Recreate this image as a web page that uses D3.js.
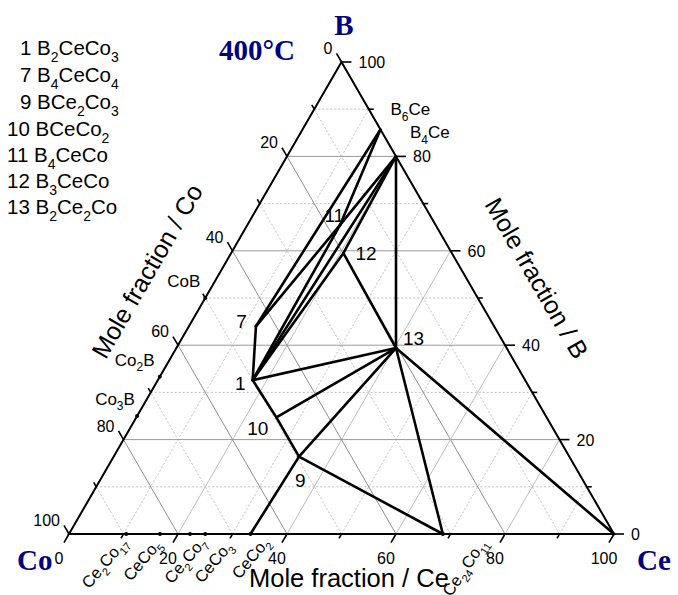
<!DOCTYPE html>
<html><head><meta charset="utf-8">
<script src="https://cdn.jsdelivr.net/npm/d3@7"></script>
<style>body{margin:0;background:#fff}svg{display:block;font-family:"Liberation Sans",Arial,sans-serif}text{fill:#000}</style>
</head><body><svg id="c" width="678" height="595"></svg>
<script>
// ---------------- data ----------------
const majorTicks = [0, 20, 40, 60, 80, 100];
const minorTicks = [10, 30, 50, 70, 90];
const gridMajor = [20, 40, 60, 80];
const gridMinor = [10, 30, 50, 70, 90];

// ternary phases (mole %): B and Ce, Co = 100 - B - Ce
const phaseIds = ["1", "7", "9", "10", "11", "12", "13"];
const phaseFormulas = ["B_2CeCo_3", "B_4CeCo_4", "BCe_2Co_3", "BCeCo_2", "B_4CeCo", "B_3CeCo", "B_2Ce_2Co"];
const phaseB  = [32.6, 44.0, 16.4, 24.7, 65.5, 59.5, 39.4];
const phaseCe = [17.4, 12.3, 34.0, 25.7, 17.0, 20.6, 40.3];

// binary / corner phases used by tie lines
const edgeIds = ["B6Ce", "B4Ce", "CeCo2", "Ce24Co11", "Ce"];
const edgeB   = [85.7, 80, 0, 0, 0];
const edgeCe  = [14.3, 20, 33.3, 68.6, 100];

// tie lines
const tieFrom = ["1", "7", "7", "11", "11", "1", "1", "1", "12", "12", "B4Ce", "1", "1", "10", "10", "9", "9", "9", "13", "13"];
const tieTo   = ["7", "B6Ce", "11", "B6Ce", "B4Ce", "11", "B4Ce", "12", "B4Ce", "13", "13", "13", "10", "9", "13", "13", "CeCo2", "Ce24Co11", "Ce24Co11", "Ce"];

// Co-B binaries (on Co-B edge, B mole %)
const coBNames = ["CoB", "Co_2B", "Co_3B"];
const coBB = [50, 33.3, 25];
// Ce-Co binaries (on Co-Ce edge, Ce mole %)
const ceCoNames = ["Ce_2Co_17", "CeCo_5", "Ce_2Co_7", "CeCo_3", "CeCo_2", "Ce_24Co_11"];
const ceCoCe = [10.5, 16.7, 22.2, 25, 33.3, 68.6];
// B-Ce binaries labels
const bCeNames = ["B_6Ce", "B_4Ce"];
const bCeB = [85.7, 80];

// ---------------- layout ----------------
const svg = d3.select("#c");
const xs = d3.scaleLinear().domain([0, 100]).range([69, 614]);
const ys = d3.scaleLinear().domain([0, 100]).range([534, 62]);
const P = (B, Ce) => [xs(Ce + B / 2), ys(B)];
const navy = "#000080";

function richText(g, str, x, y, size, anchor, transform) {
  const t = g.append("text").attr("x", x).attr("y", y).attr("font-size", size)
    .attr("text-anchor", anchor || "start");
  if (transform) t.attr("transform", transform);
  const parts = str.split(/_(\d+)/);
  let down = false;
  const subSize = Math.round(size * 0.68), off = size * 0.32;
  parts.forEach((p, i) => {
    if (p === "") return;
    const isSub = i % 2 === 1;
    const ts = t.append("tspan").text(p);
    if (isSub) { ts.attr("font-size", subSize); if (!down) { ts.attr("dy", off); down = true; } }
    else if (down) { ts.attr("dy", -off); down = false; }
  });
  return t;
}
function seg(a, b) { return "M" + a[0] + "," + a[1] + "L" + b[0] + "," + b[1]; }

// grid
const grid = svg.append("g").attr("fill", "none");
gridMinor.forEach(v => {
  [[P(v, 0), P(v, 100 - v)], [P(0, v), P(100 - v, v)], [P(0, 100 - v), P(100 - v, 0)]].forEach(s => {
    grid.append("path").attr("d", seg(s[0], s[1])).attr("stroke", "#b8b8b8")
      .attr("stroke-width", 0.9).attr("stroke-dasharray", "2,2");
  });
});
gridMajor.forEach(v => {
  grid.append("path").attr("d", seg(P(v, 0), P(v, 100 - v))).attr("stroke", "#9a9a9a").attr("stroke-width", 1);
  grid.append("path").attr("d", seg(P(0, v), P(100 - v, v))).attr("stroke", "#bdbdbd").attr("stroke-width", 1);
  grid.append("path").attr("d", seg(P(0, 100 - v), P(100 - v, 0))).attr("stroke", "#8f8f8f").attr("stroke-width", 1);
});

// triangle frame
const cCo = P(0, 0), cCe = P(0, 100), cB = P(100, 0);
svg.append("path").attr("d", "M" + cCo + "L" + cCe + "L" + cB + "Z")
  .attr("fill", "none").attr("stroke", "#000").attr("stroke-width", 2);

// ticks
const tk = svg.append("g").attr("stroke", "#000").attr("stroke-width", 1.6);
const dCe = [-0.5, 0.866], dB = [1, 0], dCo = [-0.5, -0.866];
function tick(p, d, L) { tk.append("path").attr("d", seg(p, [p[0] + d[0] * L, p[1] + d[1] * L])); }
majorTicks.forEach(v => { tick(P(0, v), dCe, 10); tick(P(v, 100 - v), dB, 10); tick(P(100 - v, 0), dCo, 10); });
minorTicks.forEach(v => { tick(P(0, v), dCe, 5); tick(P(v, 100 - v), dB, 5); tick(P(100 - v, 0), dCo, 5); });

// tick labels
const tl = svg.append("g").attr("font-size", 16);
majorTicks.forEach(v => {
  const a = P(0, v);
  tl.append("text").attr("x", a[0] - 10).attr("y", 564).attr("text-anchor", "middle").text(v);
  const b = P(v, 100 - v);
  tl.append("text").attr("x", b[0] + 17).attr("y", b[1] + 6).text(v);
  const c = P(100 - v, 0);
  tl.append("text").attr("x", c[0] - 9).attr("y", c[1] - 8).attr("text-anchor", "end").text(v);
});

// tie lines
const pos = {};
phaseIds.forEach((id, i) => pos[id] = P(phaseB[i], phaseCe[i]));
edgeIds.forEach((id, i) => pos[id] = P(edgeB[i], edgeCe[i]));
const tl2 = svg.append("g");
tieFrom.forEach((f, i) => {
  tl2.append("path").attr("d", d3.line()([pos[f], pos[tieTo[i]]]))
    .attr("stroke", "#000").attr("stroke-width", 2.6).attr("fill", "none").attr("stroke-linecap", "round");
});

// edge dots
const dots = svg.append("g");
coBB.forEach(b => { const p = P(b, 0); dots.append("circle").attr("cx", p[0]).attr("cy", p[1]).attr("r", 2); });
ceCoCe.forEach(c => { const p = P(0, c); dots.append("circle").attr("cx", p[0]).attr("cy", p[1]).attr("r", 2); });

// phase number labels
const labOff = { "1": [-7, 10, "end"], "7": [-9, 2, "end"], "9": [-4, 30, "start"], "10": [-8, 18, "end"],
  "11": [4, -3, "end"], "12": [12, 7, "start"], "13": [7, -3, "start"] };
phaseIds.forEach(id => {
  const p = pos[id], o = labOff[id];
  svg.append("text").attr("x", p[0] + o[0]).attr("y", p[1] + o[1]).attr("text-anchor", o[2])
    .attr("font-size", 19).text(id);
});

// edge compound labels
const lab = svg.append("g");
const coBOff = [[-38, -11], [-45, -11], [-42, -11]];
coBNames.forEach((n, i) => { const p = P(coBB[i], 0); richText(lab, n, p[0] + coBOff[i][0], p[1] + coBOff[i][1], 17); });
const bCeOff = [[10, -14], [14, -18]];
bCeNames.forEach((n, i) => { const p = P(bCeB[i], 100 - bCeB[i]); richText(lab, n, p[0] + bCeOff[i][0], p[1] + bCeOff[i][1], 17); });
const ceCoOff = [[2, 9], [2, 11], [17, 9], [28, 13], [20, 9], [45, 9]];
const ceCoRot = [-50, -50, -50, -50, -50, -56];
ceCoNames.forEach((n, i) => {
  const p = P(0, ceCoCe[i]);
  const x = p[0] + ceCoOff[i][0], y = p[1] + ceCoOff[i][1];
  richText(lab, n, x, y, 16.5, "end", "rotate(" + ceCoRot[i] + "," + x + "," + y + ")");
});

// axis titles
svg.append("text").attr("x", 249).attr("y", 587).attr("font-size", 25.5).text("Mole fraction / Ce");
svg.append("text").attr("transform", "translate(147,271) rotate(-60)").attr("text-anchor", "middle")
  .attr("dominant-baseline", "central").attr("font-size", 25).text("Mole fraction / Co");
svg.append("text").attr("transform", "translate(537,278) rotate(60)").attr("text-anchor", "middle")
  .attr("dominant-baseline", "central").attr("font-size", 25).text("Mole fraction / B");

// corner titles
const serif = '"Liberation Serif","Times New Roman",serif';
function corner(txt, x, y, anchor) {
  svg.append("text").attr("x", x).attr("y", y).attr("text-anchor", anchor)
    .style("font-family", serif).style("font-weight", "bold").attr("font-size", 29)
    .style("fill", navy).text(txt);
}
corner("B", 344, 35, "middle");
corner("400°C", 219, 60, "start");
corner("Co", 17, 570, "start");
corner("Ce", 637, 570, "start");

// legend
const legY = [55, 82, 109, 136, 162, 188, 214];
const leg = svg.append("g");
phaseIds.forEach((id, i) => {
  richText(leg, id + " " + phaseFormulas[i], id.length === 1 ? 20 : 7, legY[i], 20.5);
});
</script></body></html>
